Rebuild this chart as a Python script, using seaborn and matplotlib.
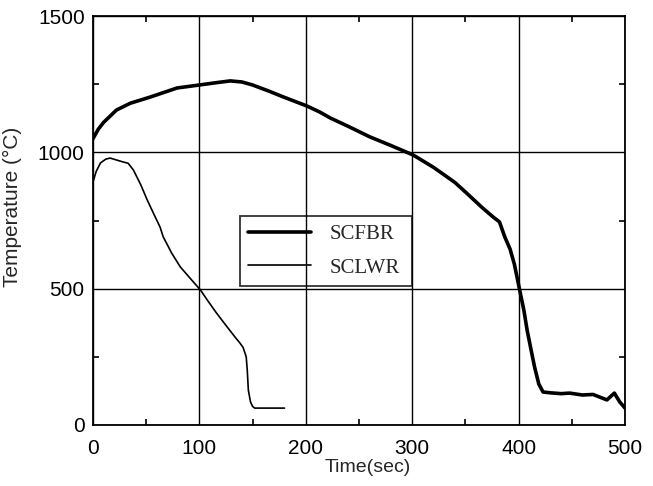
import matplotlib
matplotlib.use("Agg")
import matplotlib.pyplot as plt
import seaborn as sns
import pandas as pd
from matplotlib.ticker import MultipleLocator

# --- data ---
scfbr_time = [0, 5, 10, 22, 35, 54, 79, 100, 115, 129, 140, 150, 165, 179, 201, 213, 223,
              240, 260, 280, 301, 320, 340, 351, 365, 376, 382, 387, 392, 396, 401, 405,
              408, 412, 415, 419, 423, 430, 440, 448, 460, 470, 483, 490, 495, 500]
scfbr_temp = [1050, 1085, 1110, 1155, 1180, 1203, 1236, 1247, 1255, 1262, 1258, 1247, 1225,
              1203, 1170, 1148, 1126, 1095, 1057, 1025, 990, 945, 890, 851, 800, 763, 745,
              690, 645, 590, 495, 420, 348, 270, 213, 150, 121, 118, 115, 117, 110, 112,
              92, 117, 85, 62]
sclwr_time = [0, 3, 7, 12, 16, 22, 28, 33, 38, 45, 51, 57, 63, 66, 74, 82, 92, 101, 108,
              116, 126, 134, 138, 141, 144, 145, 146, 148, 150, 152, 160, 170, 180]
sclwr_temp = [891, 930, 961, 975, 979, 972, 965, 960, 935, 880, 825, 775, 726, 690, 630,
              580, 535, 495, 455, 411, 360, 320, 301, 285, 250, 200, 128, 85, 68, 62, 62,
              62, 62]
series_names = ["SCFBR", "SCLWR"]
x_ticks = [0, 100, 200, 300, 400, 500]
y_ticks = [0, 500, 1000, 1500]

sns.set_style("white")
plt.rcParams['font.family'] = ['Liberation Sans', 'DejaVu Sans']

df1 = pd.DataFrame({"Time": scfbr_time, "Temp": scfbr_temp})
df2 = pd.DataFrame({"Time": sclwr_time, "Temp": sclwr_temp})

fig = plt.figure(figsize=(6.53, 4.86), dpi=100)
ax = fig.add_axes([93/653, 1-425/486, 532/653, 409/486])

sns.lineplot(data=df1, x="Time", y="Temp", ax=ax, color="black", linewidth=2.6,
             label=series_names[0], sort=False)
sns.lineplot(data=df2, x="Time", y="Temp", ax=ax, color="black", linewidth=1.2,
             label=series_names[1], sort=False)

ax.set_xlim(0, 500)
ax.set_ylim(0, 1500)
ax.set_xticks(x_ticks)
ax.set_yticks(y_ticks)
ax.xaxis.set_minor_locator(MultipleLocator(50))
ax.yaxis.set_minor_locator(MultipleLocator(250))
ax.tick_params(which="major", direction="in", length=0, labelsize=15, colors="black")
ax.tick_params(axis="x", which="major", pad=10)
ax.tick_params(axis="y", which="major", pad=6)
ax.tick_params(which="minor", direction="in", length=4, width=1.2, top=True, right=True,
               bottom=True, left=True, color="black")
ax.grid(True, which="major", color="black", linewidth=1.0)
for s in ax.spines.values():
    s.set_color("black")
    s.set_linewidth(1.3)

ax.set_xlabel("Time(sec)", fontsize=14)
ax.xaxis.set_label_coords((368 - 93) / 532, -(459 - 425) / 409)
ax.xaxis.label.set_verticalalignment("top")
ax.set_ylabel("Temperature (°C)", fontsize=15)
ax.yaxis.set_label_coords((22 - 93) / 532, (425 - 207) / 409)

leg = ax.legend(loc="center", bbox_to_anchor=(0.276, 0.337, 0.324, 0.176), mode="expand",
                frameon=True, fancybox=False, shadow=False, handlelength=3.0,
                handletextpad=0.9, labelspacing=0.65, borderaxespad=0, borderpad=0.4,
                prop={"family": "Liberation Serif", "size": 15})
frame = leg.get_frame()
frame.set_edgecolor("black")
frame.set_linewidth(1.3)
frame.set_facecolor("none")

fig.savefig("out.png", dpi=100)
